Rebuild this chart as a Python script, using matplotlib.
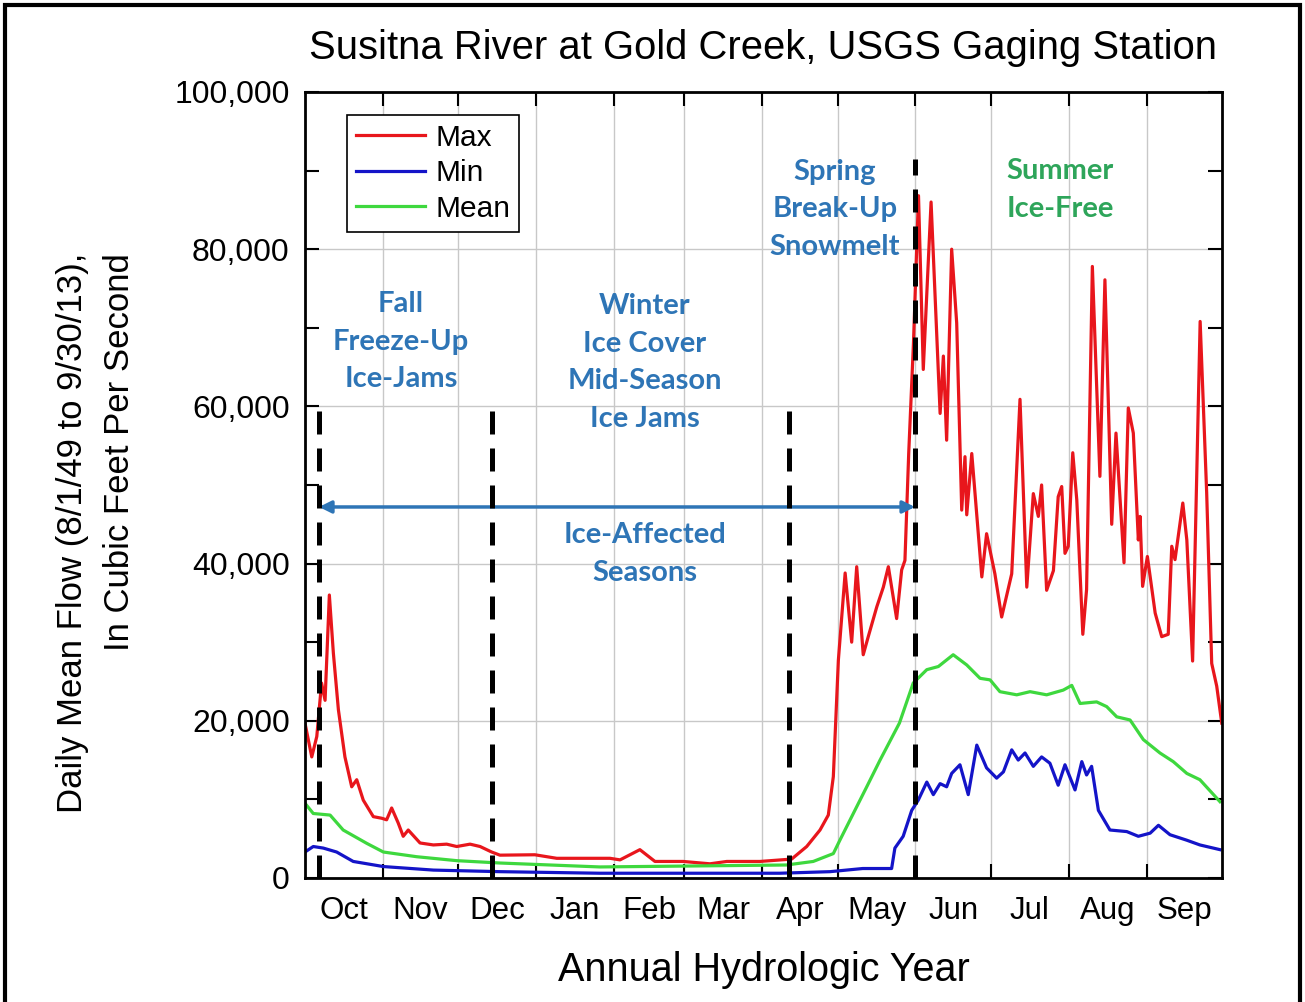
import matplotlib

matplotlib.use("Agg")

import matplotlib.pyplot as plt
from matplotlib.patches import Rectangle
from matplotlib.ticker import FuncFormatter, MultipleLocator

plt.rcParams["font.family"] = ["Liberation Sans", "DejaVu Sans"]

# days since Oct 1 of the hydrologic year, daily mean flow in cfs
max_days = [0, 2.7, 4.7, 6.6, 8.0, 9.7, 11.3, 13.3, 15.9, 18.6, 20.6, 23.2, 27.2, 30.5,
            32.5, 34.5, 37.1, 39.1, 41.1, 45.8, 51.1, 56.4, 60.4, 65.7, 69.7, 74.3, 77.6,
            91.5, 100.2, 121.4, 125.4, 133.3, 139.3, 150.5, 161.2, 167.9, 181.1, 193.7,
            199.7, 205.0, 208.3, 210.3, 212.3, 215.0, 217.6, 219.6, 222.2, 224.2, 227.6,
            230.2, 232.2, 235.5, 237.5, 238.8, 240.3, 242.2, 244.2, 246.1, 249.2, 252.8,
            254.1, 255.4, 257.4, 259.4, 261.4, 262.7, 263.4, 265.4, 269.4, 271.3, 274.6,
            277.3, 281.3, 284.6, 287.3, 289.9, 291.9, 293.2, 295.2, 297.9, 299.8, 301.2,
            302.5, 303.8, 305.6, 307.2, 309.6, 311.1, 313.4, 316.4, 318.4, 321.1, 322.8,
            326.0, 327.7, 329.7, 331.7, 332.4, 333.4, 335.3, 338.4, 341.0, 343.6, 345.0,
            346.3, 349.4, 351.0, 353.3, 356.3, 358.9, 360.9, 362.9, 364.9]
max_flow = [19700, 15400, 18000, 24800, 22600, 36000, 28600, 21400, 15400, 11600, 12500,
            9900, 7800, 7600, 7400, 8900, 7000, 5300, 6100, 4450, 4200, 4300, 4000, 4300,
            4000, 3300, 2900, 2950, 2500, 2500, 2300, 3600, 2100, 2100, 1800, 2100, 2100,
            2400, 4000, 6100, 8000, 12900, 27700, 38800, 30000, 39600, 28400, 30700, 34500,
            37000, 39600, 33000, 39200, 40400, 54000, 68100, 86800, 64700, 86000, 59100,
            66400, 55700, 80000, 70600, 46800, 53600, 46200, 54000, 38300, 43800, 38700,
            33200, 38700, 60900, 37000, 48900, 46000, 50000, 36600, 39100, 48500, 49800,
            41300, 42200, 54100, 48100, 31000, 36700, 77800, 51100, 76100, 45000, 56600,
            40100, 59800, 56600, 43000, 46000, 37100, 40900, 33700, 30700, 31000, 42200,
            40500, 47700, 43000, 27600, 70800, 49000, 27300, 24400, 19700]

mean_days = [0, 3.3, 10.0, 15.2, 24.6, 31.2, 44.5, 60.4, 77.6, 117.4, 191.7, 202.3, 210.3,
             212.9, 223.6, 228.9, 236.6, 242.1, 247.5, 252.1, 258.0, 263.4, 268.7, 272.7,
             276.6, 283.3, 288.6, 295.2, 301.8, 305.2, 308.5, 315.1, 319.1, 323.1, 328.4,
             333.7, 340.3, 345.6, 351.0, 356.2, 364.2]
mean_flow = [9500, 8200, 8000, 6100, 4400, 3300, 2700, 2200, 1900, 1400, 1650, 2100, 3100,
             4800, 11600, 15000, 19700, 24800, 26500, 26900, 28400, 27100, 25400, 25200,
             23700, 23300, 23700, 23300, 23900, 24500, 22200, 22400, 21800, 20500, 20100,
             17600, 15900, 14800, 13300, 12500, 9700]

min_days = [0, 3.3, 7.3, 12.6, 19.2, 31.2, 51.1, 77.6, 117.4, 189.0, 209.0, 222.0, 233.5,
            234.8, 238.1, 241.5, 244.1, 247.5, 250.1, 252.8, 255.4, 257.4, 260.7, 264.0,
            267.4, 271.3, 275.3, 278.0, 281.3, 283.9, 286.6, 289.9, 293.2, 296.5, 299.8,
            302.5, 306.5, 309.2, 311.1, 313.1, 315.8, 320.4, 327.1, 331.7, 336.4, 339.7,
            344.3, 351.0, 356.2, 364.2]
min_flow = [3300, 4000, 3800, 3300, 2100, 1450, 1000, 800, 600, 600, 800, 1200, 1200, 3800,
            5300, 8600, 9900, 12200, 10600, 12000, 11600, 13300, 14400, 10600, 16900, 14000,
            12700, 13500, 16300, 15000, 15900, 14200, 15400, 14600, 11800, 14400, 11200,
            14800, 13100, 14200, 8600, 6100, 5900, 5300, 5700, 6700, 5500, 4800, 4200, 3600]

month_starts = [0, 31, 61, 92, 123, 151, 182, 212, 243, 273, 304, 335, 365]
month_labels = ["Oct", "Nov", "Dec", "Jan", "Feb", "Mar", "Apr", "May", "Jun", "Jul",
                "Aug", "Sep"]

# season boundaries (days) and the height of each dashed marker
season_days = [5.6, 74.4, 192.7, 242.8]
season_tops = [60000, 60000, 60000, 91500]

fig = plt.figure(figsize=(13.05, 10.02), dpi=100)
ax = fig.add_axes([0.2337, 0.1238, 0.7027, 0.7844])

ax.plot(max_days, max_flow, color="#e8161c", lw=2.3, label="Max")
ax.plot(min_days, min_flow, color="#1414c8", lw=2.3, label="Min")
ax.plot(mean_days, mean_flow, color="#3ed83e", lw=2.3, label="Mean")

for day, top in zip(season_days, season_tops):
    ax.plot([day, day], [0, top], color="black", lw=3.6, ls=(0, (4.6, 2.8)), zorder=4)

ax.annotate("", xy=(season_days[0], 47200), xytext=(season_days[-1], 47200),
            arrowprops=dict(arrowstyle="<|-|>", color="#2e75b6", lw=2.5,
                            mutation_scale=18, shrinkA=0, shrinkB=0))

blue = "#2e75b6"
green = "#2ea55a"
text_kw = dict(ha="center", va="center", fontsize=21, fontweight="bold",
               family=["Lato", "DejaVu Sans"], linespacing=1.55)
ax.text(38.2, 68200, "Fall\nFreeze-Up\nIce-Jams", color=blue, **text_kw)
ax.text(135.3, 65600, "Winter\nIce Cover\nMid-Season\nIce Jams", color=blue, **text_kw)
ax.text(211.0, 85100, "Spring\nBreak-Up\nSnowmelt", color=blue, **text_kw)
ax.text(300.5, 87500, "Summer\nIce-Free", color=green, **text_kw)
ax.text(135.3, 41200, "Ice-Affected\nSeasons", color=blue, **text_kw)

ax.set_xlim(0, 365)
ax.set_ylim(0, 100000)
ax.set_xticks(month_starts[1:-1])
ax.set_xticklabels([])
mids = [(a + b) / 2 for a, b in zip(month_starts[:-1], month_starts[1:])]
ax.set_xticks(mids, minor=True)
ax.set_xticklabels(month_labels, minor=True)
ax.tick_params(axis="x", which="minor", length=0, pad=13, labelsize=22.5)

ax.yaxis.set_major_locator(MultipleLocator(20000))
ax.yaxis.set_minor_locator(MultipleLocator(10000))
ax.yaxis.set_major_formatter(FuncFormatter(lambda v, p: f"{v:,.0f}"))
ax.tick_params(axis="y", which="both", direction="in", length=10, width=1.5,
               right=True, labelsize=23, pad=11)
ax.tick_params(axis="x", which="major", direction="in", length=10, width=1.5, top=True)

ax.grid(True, which="major", color="#c8c8c8", lw=1.0)
for spine in ax.spines.values():
    spine.set_linewidth(2)

ax.set_xlabel("Annual Hydrologic Year", fontsize=28.5, labelpad=18)
fig.text(0.0736, 0.468, "Daily Mean Flow (8/1/49 to 9/30/13),\nIn Cubic Feet Per Second",
         fontsize=25, rotation=90, ha="center", va="center", multialignment="right",
         linespacing=1.55)
ax.set_title("Susitna River at Gold Creek, USGS Gaging Station", fontsize=28.8, pad=24)

leg = ax.legend(loc="upper left", bbox_to_anchor=(0.046, 0.971), fontsize=21.5,
                fancybox=False, edgecolor="black", framealpha=1, handlelength=2.3,
                borderpad=0.3, labelspacing=0.25, handletextpad=0.35, borderaxespad=0)
leg.get_frame().set_linewidth(1.2)

fig.patches.append(Rectangle((0.004, -0.01), 0.992, 1.005, transform=fig.transFigure,
                             fill=False, edgecolor="black", lw=3))

fig.savefig("out.png", dpi=100)
plt.close(fig)
